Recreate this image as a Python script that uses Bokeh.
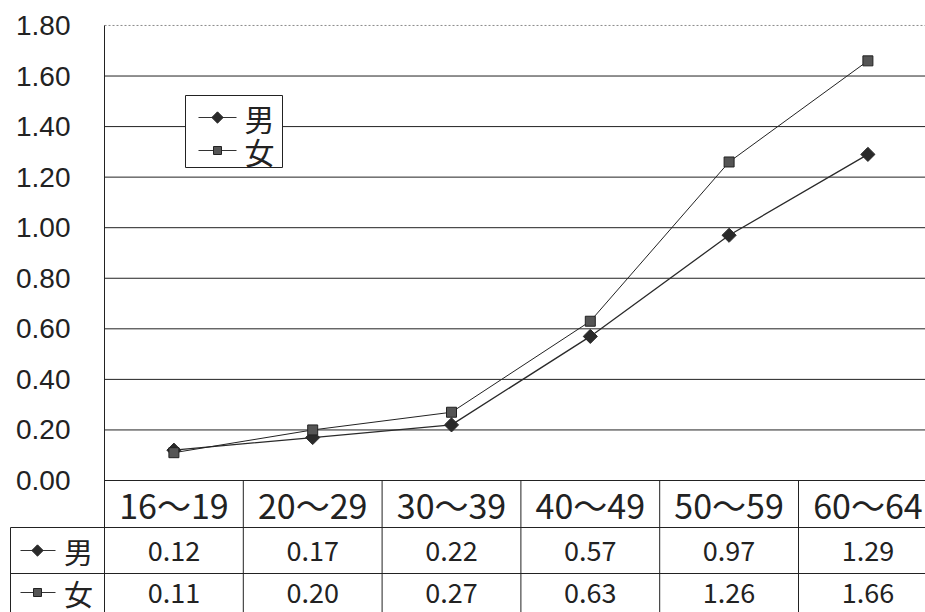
import math
from bokeh.plotting import figure
from bokeh.models import Range1d
from bokeh.core.properties import value
from bokeh.embed import file_html
from bokeh.resources import INLINE

# ---- data -------------------------------------------------------------
categories = ["16～19", "20～29", "30～39", "40～49", "50～59", "60～64"]
male = [0.12, 0.17, 0.22, 0.57, 0.97, 1.29]
female = [0.11, 0.20, 0.27, 0.63, 1.26, 1.66]
series_names = ["男", "女"]
y_ticks = [0.0, 0.2, 0.4, 0.6, 0.8, 1.0, 1.2, 1.4, 1.6, 1.8]

# ---- geometry (pixels) ------------------------------------------------
W, H = 925, 612
CAT0_PX = 104         # pixel of the first category boundary
UNIT = 138.8          # pixels per category column
ZERO_PX = 480         # pixel row of y = 0
PX_PER_Y = 252.8      # pixels per 1.0 on the value scale

INK = "#222222"
JP = value("Noto Sans CJK JP")
LAT = value("Liberation Sans")


def px_to_x(px):
    return (px - CAT0_PX) / UNIT


def px_to_y(py):
    return (ZERO_PX - py) / PX_PER_Y


x_start, x_end = px_to_x(0), px_to_x(W)
y_start, y_end = px_to_y(H), px_to_y(0)
centers = [i + 0.5 for i in range(len(categories))]
bounds = list(range(len(categories)))

p = figure(width=W, height=H, output_backend="svg", toolbar_location=None,
           x_axis_type=None, y_axis_type=None, title=None,
           x_range=Range1d(x_start, x_end), y_range=Range1d(y_start, y_end),
           min_border=0)
p.outline_line_color = None
p.background_fill_color = "white"
p.border_fill_color = "white"

# ---- value scale: gridlines and tick labels ---------------------------
inner = y_ticks[1:-1]
p.segment(x0=[0] * len(inner), y0=inner, x1=[x_end] * len(inner), y1=inner,
          line_color=INK, line_width=1)
p.segment(x0=[0], y0=[y_ticks[-1]], x1=[x_end], y1=[y_ticks[-1]],
          line_color="#8a8a8a", line_dash="2 2", line_width=1)
p.segment(x0=[0], y0=[y_ticks[0]], x1=[x_end], y1=[y_ticks[0]],
          line_color=INK, line_width=1)
p.text(x=[px_to_x(70)] * len(y_ticks), y=y_ticks,
       text=[f"{v:.2f}" for v in y_ticks], text_font=LAT,
       text_font_size="28px", text_color=INK,
       text_align="right", text_baseline="middle")

# ---- table rules ------------------------------------------------------
row_top = px_to_y(527)     # bottom of header row / top of first data row
row_mid = px_to_y(573)     # between the two data rows
hdr_left = px_to_x(10)

# left chart edge continues down through the table
p.segment(x0=[0], y0=[y_start], x1=[0], y1=[y_ticks[-1]],
          line_color=INK, line_width=1)
p.segment(x0=bounds[1:], y0=[0] * (len(bounds) - 1),
          x1=bounds[1:], y1=[y_start] * (len(bounds) - 1),
          line_color=INK, line_width=1)
p.segment(x0=[hdr_left, hdr_left], y0=[row_top, row_mid],
          x1=[x_end, x_end], y1=[row_top, row_mid],
          line_color=INK, line_width=1)
p.segment(x0=[hdr_left], y0=[row_top], x1=[hdr_left], y1=[y_start],
          line_color=INK, line_width=1)

# header row labels
p.text(x=centers, y=[row_top / 2] * len(categories), text=categories,
       text_font=JP, text_font_size="34px", text_color=INK,
       text_align="center", text_baseline="middle")

# ---- series -----------------------------------------------------------
# male: square turned 45 degrees (rhombus); female: plain square
styles = [
    dict(marker="square", angle=math.pi / 4, size=10,
         fill="#2a2a2a", line="#2a2a2a", lw=1.3),
    dict(marker="square", angle=0.0, size=10,
         fill="#555555", line="#222222", lw=1.0),
]
for vals, st in zip([male, female], styles):
    p.line(centers, vals, line_color=st["line"], line_width=st["lw"])
    p.scatter(centers, vals, marker=st["marker"], size=st["size"],
              angle=st["angle"], fill_color=st["fill"],
              line_color=st["line"])

# ---- legend box -------------------------------------------------------
p.quad(left=[px_to_x(185)], right=[px_to_x(282)],
       top=[px_to_y(95)], bottom=[px_to_y(167)],
       fill_color="white", line_color=INK, line_width=1)
leg_rows = [px_to_y(117), px_to_y(150)]
for yc, name, st in zip(leg_rows, series_names, styles):
    p.segment(x0=[px_to_x(198)], y0=[yc], x1=[px_to_x(236)], y1=[yc],
              line_color="#333333", line_width=1.2)
    p.scatter([px_to_x(217)], [yc], marker=st["marker"], angle=st["angle"],
              size=st["size"] - 2, fill_color=st["fill"],
              line_color=st["line"])
    p.text(x=[px_to_x(259)], y=[yc], text=[name], text_font=JP,
           text_font_size="30px", text_color=INK,
           text_align="center", text_baseline="middle")

# ---- data rows of the table -------------------------------------------
row_centers = [px_to_y(550), px_to_y(592)]
for vals, name, st, yc in zip([male, female], series_names, styles,
                              row_centers):
    p.segment(x0=[px_to_x(20)], y0=[yc], x1=[px_to_x(55)], y1=[yc],
              line_color="#333333", line_width=1)
    p.scatter([px_to_x(37)], [yc], marker=st["marker"], angle=st["angle"],
              size=st["size"] - 2, fill_color=st["fill"],
              line_color=st["line"])
    p.text(x=[px_to_x(78)], y=[yc], text=[name], text_font=JP,
           text_font_size="29px", text_color=INK,
           text_align="center", text_baseline="middle")
    p.text(x=centers, y=[yc] * len(vals), text=[f"{v:.2f}" for v in vals],
           text_font=JP, text_font_size="27px", text_color=INK,
           text_align="center", text_baseline="middle")

open("out.html", "w").write(file_html(p, INLINE))
